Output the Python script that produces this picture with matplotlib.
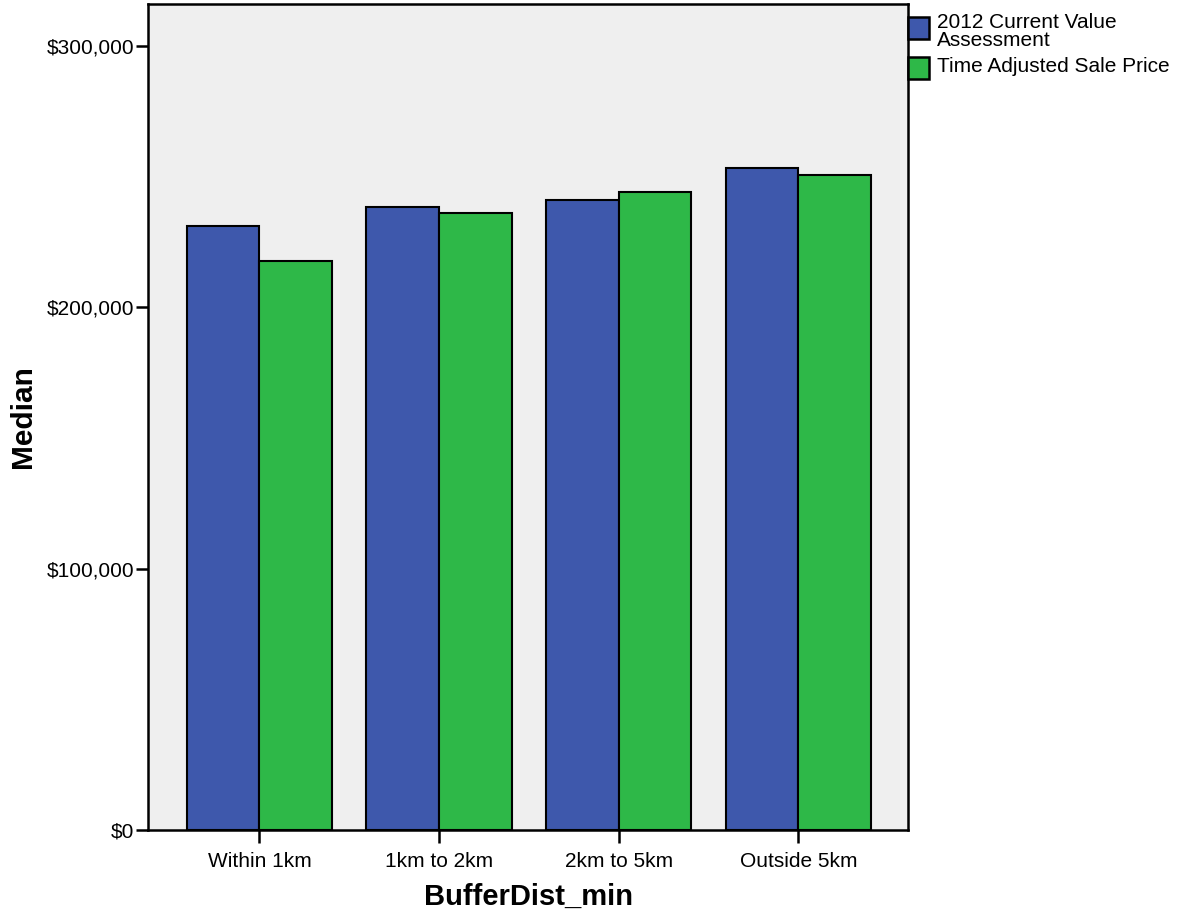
import matplotlib
matplotlib.use("Agg")
import matplotlib.pyplot as plt
import numpy as np
from matplotlib.ticker import FuncFormatter
from matplotlib.patches import Rectangle

plt.rcParams['font.family'] = ['Liberation Sans', 'DejaVu Sans']

categories = ["Within 1km", "1km to 2km", "2km to 5km", "Outside 5km"]
series_names = ["2012 Current Value\nAssessment", "Time Adjusted Sale Price"]
assessment = [230900, 238300, 241200, 253300]
sale_price = [217500, 236200, 243900, 250600]
colors = ["#3e58ac", "#2eb848"]

W, H = 1183, 921
fig = plt.figure(figsize=(W / 100, H / 100), dpi=100)
ax = fig.add_axes([148/W, 91/H, 760/W, 826/H])
ax.set_facecolor("#efefef")

x = np.arange(len(categories))
w = 0.405
ax.bar(x - w/2, assessment, w, color=colors[0], edgecolor="black", linewidth=1.5, label=series_names[0])
ax.bar(x + w/2, sale_price, w, color=colors[1], edgecolor="black", linewidth=1.5, label=series_names[1])

ax.set_xlim(-0.62, 3.61)
ax.set_ylim(0, 316000)
ax.set_yticks([0, 100000, 200000, 300000])
ax.yaxis.set_major_formatter(FuncFormatter(lambda v, p: "${:,.0f}".format(v)))
ax.set_xticks(x)
ax.set_xticklabels(categories)
ax.tick_params(axis='both', labelsize=15, width=1.8, length=9, direction='out', colors='black')
ax.tick_params(axis='y', pad=1)
ax.tick_params(axis='x', pad=6.5)
for s in ax.spines.values():
    s.set_linewidth(1.8)

ax.set_xlabel("BufferDist_min", fontsize=21, fontweight='bold', labelpad=9)
ax.set_ylabel("Median", fontsize=21.5, fontweight='bold', labelpad=7)

# Legend (SPSS style: swatch top aligned with label top)
def fx(px):
    return px / W

def fy(py):
    return 1 - py / H

swatch_tops = [17, 57]
label_baselines = [28, 72]
for i, (name, col) in enumerate(zip(series_names, colors)):
    top = swatch_tops[i]
    fig.patches.append(Rectangle((fx(908), fy(top + 22)), 21 / W, 22 / H,
                                 transform=fig.transFigure, facecolor=col,
                                 edgecolor='black', linewidth=1.8))
    fig.text(fx(937), fy(label_baselines[i]), name.split("\n")[0], fontsize=15,
             va='baseline', ha='left')
    for j, extra in enumerate(name.split("\n")[1:], start=1):
        fig.text(fx(937), fy(label_baselines[i] + 17.5 * j), extra, fontsize=15,
                 va='baseline', ha='left')

fig.savefig("out.png", dpi=100)
